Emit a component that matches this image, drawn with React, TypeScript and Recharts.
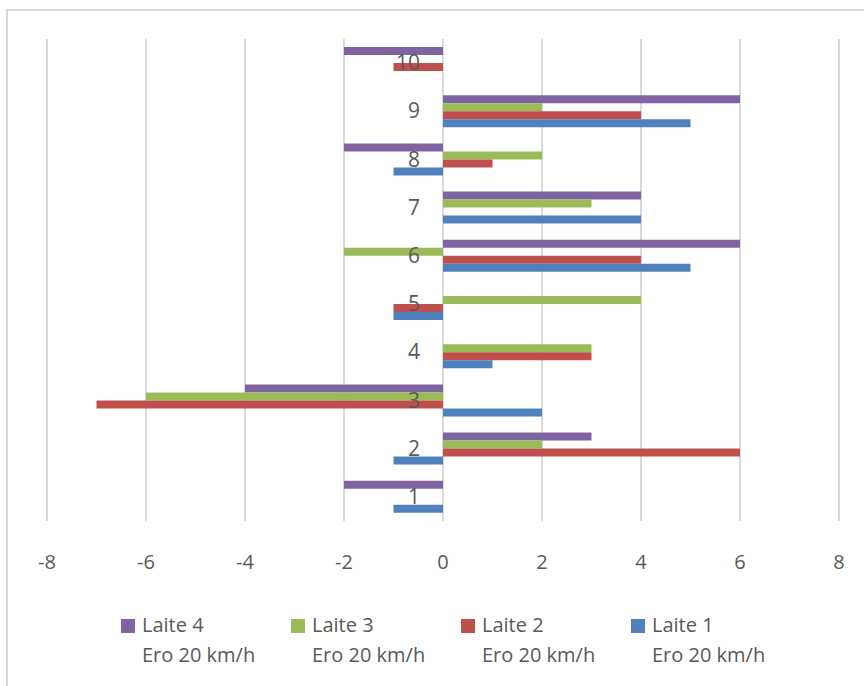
import { BarChart, Bar, XAxis, YAxis, CartesianGrid } from "recharts";

// categories 1..10, drawn bottom to top
const CATEGORIES = ["1", "2", "3", "4", "5", "6", "7", "8", "9", "10"];
const LAITE_1 = [-1, -1, 2, 1, -1, 5, 4, -1, 5, 0];
const LAITE_2 = [0, 6, -7, 3, -1, 4, 0, 1, 4, -1];
const LAITE_3 = [0, 2, -6, 3, 4, -2, 3, 2, 2, 0];
const LAITE_4 = [-2, 3, -4, 0, 0, 6, 4, -2, 6, -2];
const X_TICKS = [-8, -6, -4, -2, 0, 2, 4, 6, 8];
const SPEED = "Ero 20 km/h";

const SERIES = [
  { key: "l4", name: "Laite 4", color: "#8064A2" },
  { key: "l3", name: "Laite 3", color: "#9BBB59" },
  { key: "l2", name: "Laite 2", color: "#C0504D" },
  { key: "l1", name: "Laite 1", color: "#4F81BD" },
];

const data = CATEGORIES.map((cat, i) => ({
  cat,
  l1: LAITE_1[i],
  l2: LAITE_2[i],
  l3: LAITE_3[i],
  l4: LAITE_4[i],
}));

const W = 864;
const H = 686;
const Y_AXIS_W = 1;
const MARGIN = { top: 39, right: 25, left: 47 - Y_AXIS_W, bottom: 105 };
const X_AXIS_H = 60;
const X_MIN = -8;
const X_MAX = 8;
const PLOT_LEFT = MARGIN.left + Y_AXIS_W;
const ZERO_X = PLOT_LEFT + ((0 - X_MIN) / (X_MAX - X_MIN)) * (W - PLOT_LEFT - MARGIN.right);

const FONT = "'Open Sans', sans-serif";
const TEXT = "#595959";

const XTick = ({ x, y, payload }: any) => (
  <text x={x} y={y} dy={48} textAnchor="middle" fill={TEXT} fontSize={20} fontFamily={FONT}>
    {payload.value}
  </text>
);

// category numbers sit just left of the zero line
const CatTick = ({ y, payload }: any) => (
  <text x={ZERO_X - 23} y={y} dy={7} textAnchor="end" fill={TEXT} fontSize={21} fontFamily={FONT}>
    {payload.value}
  </text>
);

export default function App() {
  return (
    <div style={{ position: "fixed", left: 0, top: 0, width: W, height: H, overflow: "hidden", background: "#fff", fontFamily: FONT }}>
      <div style={{ position: "absolute", left: 6, top: 9, width: W + 20, height: H + 20, border: "2px solid #d9d9d9", boxSizing: "border-box" }} />
      <div style={{ position: "absolute", left: 0, top: 0 }}>
        <BarChart width={W} height={H} data={data} layout="vertical" margin={MARGIN} barCategoryGap="16.6%" barGap={0}>
          <CartesianGrid horizontal={false} stroke="#d9d9d9" strokeWidth={2} />
          <XAxis
            type="number"
            domain={[X_MIN, X_MAX]}
            ticks={X_TICKS}
            height={X_AXIS_H}
            axisLine={false}
            tickLine={false}
            tickSize={0}
            tickMargin={0}
            tick={<XTick />}
            interval={0}
          />
          {SERIES.map((s) => (
            <Bar key={s.key} dataKey={s.key} name={s.name} fill={s.color} isAnimationActive={false} />
          ))}
          <YAxis
            type="category"
            dataKey="cat"
            reversed
            width={Y_AXIS_W}
            axisLine={false}
            tickLine={false}
            tick={<CatTick />}
            interval={0}
          />
        </BarChart>
      </div>
      <div style={{ position: "absolute", left: 121, top: 610, display: "flex" }}>
        {SERIES.map((s) => (
          <div key={s.key} style={{ width: 170, display: "flex", alignItems: "flex-start" }}>
            <div style={{ width: 14, height: 14, marginTop: 9, marginRight: 7, background: s.color }} />
            <div style={{ fontSize: 20, lineHeight: "30px", color: TEXT, whiteSpace: "nowrap" }}>
              <div>{s.name}</div>
              <div>{SPEED}</div>
            </div>
          </div>
        ))}
      </div>
    </div>
  );
}
